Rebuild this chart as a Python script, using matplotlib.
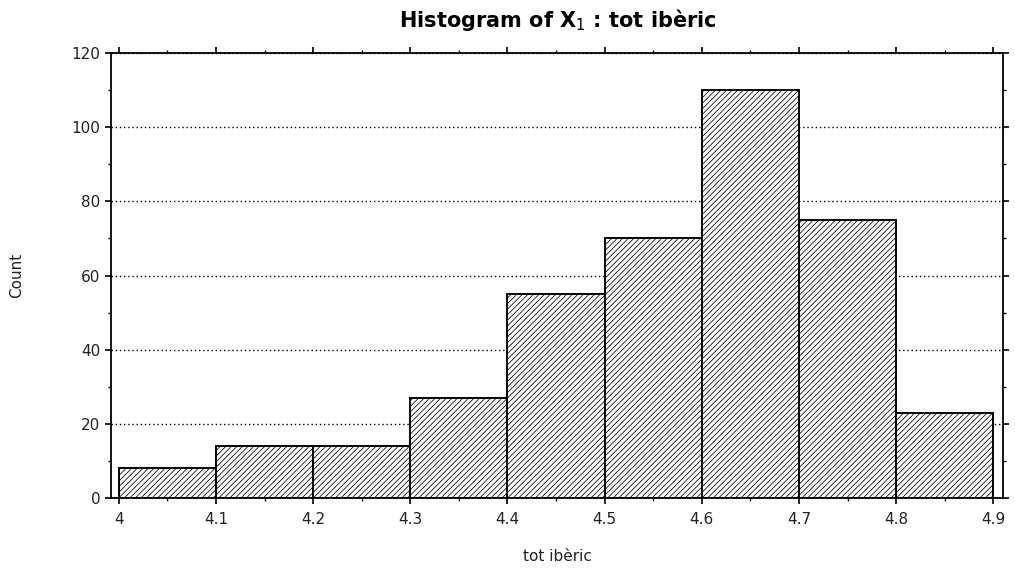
import matplotlib
matplotlib.use("Agg")
import matplotlib.pyplot as plt
import numpy as np

bin_edges = [4.0, 4.1, 4.2, 4.3, 4.4, 4.5, 4.6, 4.7, 4.8, 4.9]
counts = [8, 14, 14, 27, 55, 70, 110, 75, 23]
x_ticks = [4.0, 4.1, 4.2, 4.3, 4.4, 4.5, 4.6, 4.7, 4.8, 4.9]
x_tick_labels = ["4", "4.1", "4.2", "4.3", "4.4", "4.5", "4.6", "4.7", "4.8", "4.9"]
y_ticks = [0, 20, 40, 60, 80, 100, 120]

plt.rcParams['hatch.linewidth'] = 0.55
plt.rcParams['font.family'] = ['DejaVu Sans']

fig = plt.figure(figsize=(10.15, 5.68), dpi=100)
ax = fig.add_axes([111/1015, 1-498/568, (1003-111)/1015, (498-53)/568])

edges = np.array(bin_edges)
ax.bar(edges[:-1], counts, width=np.diff(edges), align='edge',
       facecolor='white', edgecolor='black', linewidth=1.4, hatch='//////', zorder=2)

ax.set_xlim(3.992, 4.910)
ax.set_ylim(0, 120)
ax.set_xticks(x_ticks)
ax.set_xticklabels(x_tick_labels)
ax.set_yticks(y_ticks)
ax.set_xticks(np.arange(4.05, 4.9, 0.1), minor=True)
ax.set_yticks(np.arange(10, 120, 20), minor=True)

ax.yaxis.grid(True, which='major', linestyle=(0, (1, 2)), color='black', linewidth=1.0)
ax.set_axisbelow(True)

ax.tick_params(axis='both', which='major', direction='out', length=4, width=1.2,
               labelsize=11, labelcolor='#222222')
ax.tick_params(axis='both', which='minor', direction='out', length=2.5, width=1.0)
ax.tick_params(axis='x', top=True, which='both')
ax.tick_params(axis='y', right=True, which='both')
ax.tick_params(axis='x', pad=6)

for s in ax.spines.values():
    s.set_linewidth(1.3)
    s.set_color('black')

ax.set_xlabel("tot ibèric", fontsize=11, color='#222222', labelpad=16)
ax.set_ylabel("Count", fontsize=11, color='#222222', labelpad=34)
fig.text(558/1015, 1-20/568, "Histogram of X$_1$ : tot ibèric", ha='center', va='center',
         fontsize=15, fontweight='bold')

fig.savefig("out.png", dpi=100)
